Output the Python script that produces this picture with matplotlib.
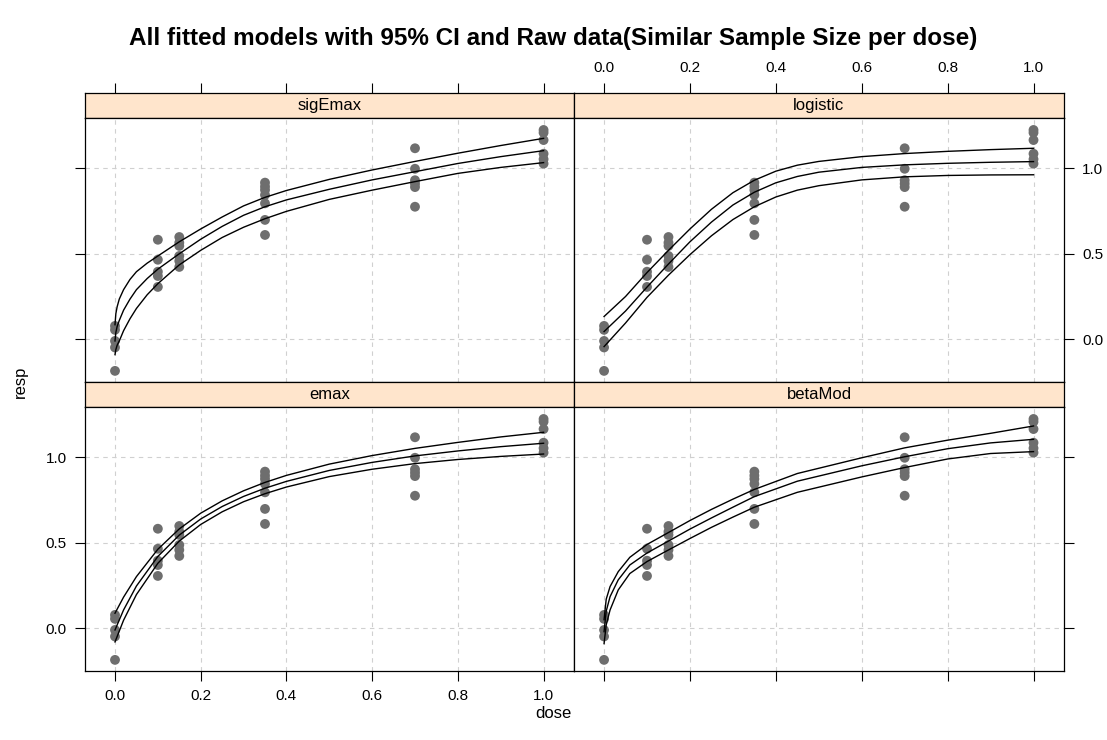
import matplotlib.pyplot as plt
import numpy as np

plt.rcParams['font.family'] = ['Liberation Sans', 'DejaVu Sans']

# raw observations (same data in every panel)
raw_dose = [0, 0, 0, 0, 0,
            0.1, 0.1, 0.1, 0.1, 0.1,
            0.15, 0.15, 0.15, 0.15, 0.15, 0.15,
            0.35, 0.35, 0.35, 0.35, 0.35, 0.35, 0.35,
            0.7, 0.7, 0.7, 0.7, 0.7, 0.7,
            1.0, 1.0, 1.0, 1.0, 1.0, 1.0]
raw_resp = [0.078, 0.055, -0.01, -0.048, -0.185,
            0.582, 0.465, 0.395, 0.37, 0.306,
            0.598, 0.565, 0.546, 0.487, 0.458, 0.423,
            0.916, 0.893, 0.873, 0.844, 0.795, 0.698, 0.61,
            1.117, 0.997, 0.93, 0.91, 0.89, 0.775,
            1.224, 1.208, 1.165, 1.085, 1.053, 1.027]

# fitted curves: dose grid, lower CI, fit, upper CI
sigemax_dose = [0, 0.002, 0.005, 0.01, 0.02, 0.035, 0.05, 0.075, 0.1, 0.15, 0.2,
                0.25, 0.3, 0.35, 0.4, 0.5, 0.6, 0.7, 0.8, 0.9, 1.0]
sigemax_lo = [-0.09, -0.06, -0.035, -0.01, 0.05, 0.12, 0.18, 0.26, 0.325, 0.435, 0.52,
              0.595, 0.655, 0.705, 0.748, 0.818, 0.872, 0.922, 0.97, 1.005, 1.033]
sigemax_fit = [-0.01, 0.04, 0.075, 0.11, 0.17, 0.235, 0.29, 0.355, 0.41, 0.5, 0.585,
               0.66, 0.725, 0.775, 0.815, 0.877, 0.932, 0.98, 1.028, 1.068, 1.103]
sigemax_hi = [0.085, 0.15, 0.19, 0.235, 0.29, 0.35, 0.395, 0.445, 0.487, 0.57, 0.645,
              0.715, 0.78, 0.83, 0.87, 0.935, 0.99, 1.04, 1.088, 1.133, 1.175]

logistic_dose = [0, 0.05, 0.1, 0.15, 0.2, 0.25, 0.3, 0.35, 0.4, 0.45, 0.5,
                 0.6, 0.7, 0.8, 0.9, 1.0]
logistic_lo = [-0.043, 0.095, 0.245, 0.375, 0.495, 0.605, 0.7, 0.775, 0.832, 0.872, 0.898,
               0.932, 0.95, 0.958, 0.961, 0.962]
logistic_fit = [0.045, 0.165, 0.305, 0.44, 0.57, 0.685, 0.785, 0.86, 0.915, 0.952, 0.977,
                1.005, 1.02, 1.029, 1.035, 1.039]
logistic_hi = [0.133, 0.25, 0.39, 0.52, 0.645, 0.76, 0.857, 0.93, 0.983, 1.018, 1.04,
               1.068, 1.086, 1.099, 1.109, 1.117]

emax_dose = [0, 0.02, 0.05, 0.1, 0.15, 0.2, 0.25, 0.3, 0.35, 0.4, 0.5,
             0.6, 0.7, 0.8, 0.9, 1.0]
emax_lo = [-0.08, 0.047, 0.197, 0.38, 0.51, 0.607, 0.681, 0.74, 0.787, 0.826, 0.887,
           0.93, 0.963, 0.987, 1.005, 1.019]
emax_fit = [-0.01, 0.107, 0.247, 0.42, 0.545, 0.639, 0.712, 0.771, 0.819, 0.859, 0.923,
            0.970, 1.008, 1.037, 1.062, 1.082]
emax_hi = [0.088, 0.182, 0.302, 0.462, 0.581, 0.673, 0.745, 0.804, 0.853, 0.894, 0.96,
           1.01, 1.052, 1.087, 1.119, 1.146]

betamod_dose = [0, 0.005, 0.014, 0.033, 0.06, 0.1, 0.15, 0.2, 0.25, 0.3, 0.35,
                0.45, 0.6, 0.7, 0.8, 0.9, 1.0]
betamod_lo = [-0.09, 0.02, 0.107, 0.224, 0.32, 0.39, 0.458, 0.525, 0.59, 0.65, 0.708,
              0.795, 0.885, 0.94, 0.99, 1.022, 1.033]
betamod_fit = [-0.02, 0.1, 0.185, 0.283, 0.37, 0.44, 0.51, 0.58, 0.645, 0.708, 0.77,
               0.86, 0.95, 1.003, 1.05, 1.084, 1.105]
betamod_hi = [0.05, 0.17, 0.244, 0.331, 0.415, 0.49, 0.56, 0.63, 0.695, 0.755, 0.812,
              0.905, 0.997, 1.055, 1.1, 1.14, 1.183]

panel_names = ['sigEmax', 'logistic', 'emax', 'betaMod']
x_ticks = [0.0, 0.2, 0.4, 0.6, 0.8, 1.0]
x_ticklabels = ['0.0', '0.2', '0.4', '0.6', '0.8', '1.0']
y_ticks = [0.0, 0.5, 1.0]
y_ticklabels = ['0.0', '0.5', '1.0']

curves = {
    'sigEmax': (sigemax_dose, sigemax_lo, sigemax_fit, sigemax_hi),
    'logistic': (logistic_dose, logistic_lo, logistic_fit, logistic_hi),
    'emax': (emax_dose, emax_lo, emax_fit, emax_hi),
    'betaMod': (betamod_dose, betamod_lo, betamod_fit, betamod_hi),
}

W, H = 1107, 740
fig = plt.figure(figsize=(W / 100, H / 100), dpi=100)


def box(x0, y0, x1, y1):
    return [x0 / W, 1 - y1 / H, (x1 - x0) / W, (y1 - y0) / H]


cols = [(85, 574), (574, 1064)]
rows = [(93, 118, 382), (382, 407, 671)]
xlim = (-0.07, 1.071)
ylim = (-0.25, 1.294)
tick_kw = dict(direction='out', length=7, width=0.8, labelsize=11, pad=6)

for i, name in enumerate(panel_names):
    r, c = divmod(i, 2)
    x0, x1 = cols[c]
    s0, s1, p1 = rows[r]

    strip = fig.add_axes(box(x0, s0, x1, s1), facecolor='#ffe5cc')
    strip.set_xlim(xlim)
    strip.set_ylim(0, 1)
    strip.set_yticks([])
    strip.text(0.5, 0.5, name, transform=strip.transAxes, ha='center', va='center', fontsize=12)
    if r == 0:
        strip.xaxis.set_ticks_position('top')
        strip.set_xticks(x_ticks)
        strip.set_xticklabels(x_ticklabels if c == 1 else [])
        strip.tick_params(axis='x', **tick_kw)
    else:
        strip.set_xticks([])
    for sp in strip.spines.values():
        sp.set_linewidth(0.9)

    ax = fig.add_axes(box(x0, s1, x1, p1))
    ax.set_xlim(xlim)
    ax.set_ylim(ylim)
    for xv in x_ticks:
        ax.axvline(xv, color='#d0d0d0', lw=0.8, ls=(0, (4, 4)), zorder=0)
    for yv in y_ticks:
        ax.axhline(yv, color='#d0d0d0', lw=0.8, ls=(0, (4, 4)), zorder=0)

    ax.scatter(raw_dose, raw_resp, s=50, color='#6e6e6e', edgecolors='none', zorder=2)
    d, lo, fit, hi = curves[name]
    for yv in (lo, fit, hi):
        ax.plot(d, yv, color='black', lw=1.0, zorder=3)

    if r == 1:
        ax.set_xticks(x_ticks)
        ax.set_xticklabels(x_ticklabels if c == 0 else [])
        ax.tick_params(axis='x', **tick_kw)
    else:
        ax.set_xticks([])
    ax.set_yticks(y_ticks)
    if c == 0:
        ax.set_yticklabels(y_ticklabels if r == 1 else [])
    else:
        ax.yaxis.set_ticks_position('right')
        ax.set_yticklabels(y_ticklabels if r == 0 else [])
    ax.tick_params(axis='y', **tick_kw)
    for sp in ax.spines.values():
        sp.set_linewidth(0.9)

fig.text(553 / W, 1 - 38 / H, 'All fitted models with 95% CI and Raw data(Similar Sample Size per dose)',
         ha='center', va='center', fontsize=17.5, fontweight='bold')
fig.text(553 / W, 1 - 713 / H, 'dose', ha='center', va='center', fontsize=12)
fig.text(20 / W, 1 - 382 / H, 'resp', ha='center', va='center', rotation=90, fontsize=12)

fig.savefig('out.png', dpi=100)
